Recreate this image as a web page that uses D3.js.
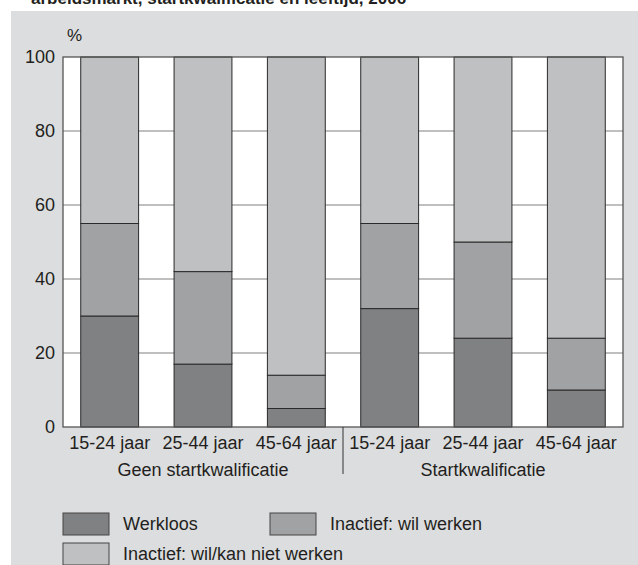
<!DOCTYPE html>
<html><head><meta charset="utf-8">
<script src="https://cdn.jsdelivr.net/npm/d3@7"></script>
<style>body{margin:0;background:#fff}svg{display:block}text{font-family:"Liberation Sans",Arial,Helvetica,sans-serif;fill:#231f20}</style>
</head><body>
<script>
const groups = ["Geen startkwalificatie", "Startkwalificatie"];
const ageLabels = ["15-24 jaar", "25-44 jaar", "45-64 jaar"];
const categories = ["G 15-24", "G 25-44", "G 45-64", "S 15-24", "S 25-44", "S 45-64"];
const werkloos = [30, 17, 5, 32, 24, 10];
const wilWerken = [25, 25, 9, 23, 26, 14];
const nietWerken = [45, 58, 86, 45, 50, 76];
const seriesNames = ["Werkloos", "Inactief: wil werken", "Inactief: wil/kan niet werken"];
const colors = ["#808183", "#a1a2a4", "#bfc0c2"];
const yTicks = [0, 20, 40, 60, 80, 100];
const title = "arbeidsmarkt, startkwalificatie en leeftijd, 2006";

const W = 638, H = 565;
const svg = d3.select("body").append("svg").attr("width", W).attr("height", H);
svg.append("rect").attr("x", 11).attr("y", 11).attr("width", W - 11).attr("height", H - 11).attr("fill", "#dcdddf");
svg.append("text").attr("x", 31).attr("y", 4).attr("font-size", 17).attr("font-weight", "bold").text(title);

const m = {l: 63, r: 623, t: 57, b: 427};
const x = d3.scaleBand().domain(categories).range([m.l, m.r]).paddingInner(0.38).paddingOuter(0.19);
const y = d3.scaleLinear().domain([0, 100]).range([m.b, m.t]);

svg.append("rect").attr("x", m.l).attr("y", m.t).attr("width", m.r - m.l).attr("height", m.b - m.t).attr("fill", "#fff");
svg.append("g").selectAll("line").data(yTicks.filter(d => d > 0 && d < 100)).join("line")
  .attr("x1", m.l).attr("x2", m.r).attr("y1", d => y(d)).attr("y2", d => y(d))
  .attr("stroke", "#808080").attr("stroke-width", 1.2);

const data = categories.map((c, i) => ({c, v: [werkloos[i], wilWerken[i], nietWerken[i]]}));
const stacked = d3.stack().keys([0, 1, 2]).value((d, k) => d.v[k])(data);
svg.append("g").selectAll("g").data(stacked).join("g").attr("fill", (d, i) => colors[i])
  .selectAll("rect").data(d => d).join("rect")
  .attr("x", d => x(d.data.c)).attr("width", x.bandwidth())
  .attr("y", d => y(d[1])).attr("height", d => y(d[0]) - y(d[1]))
  .attr("stroke", "#2a2a2a").attr("stroke-width", 1);

// frame
svg.append("rect").attr("x", m.l).attr("y", m.t).attr("width", m.r - m.l).attr("height", m.b - m.t)
  .attr("fill", "none").attr("stroke", "#555").attr("stroke-width", 1.3);

// y axis labels
const yAxis = d3.axisLeft(y).tickValues(yTicks).tickSize(0).tickPadding(8);
const ya = svg.append("g").attr("transform", `translate(${m.l},0)`).call(yAxis);
ya.select(".domain").remove();
ya.selectAll("text").attr("font-size", 18).attr("font-family", null).attr("fill", "#231f20");
svg.append("text").attr("x", 67).attr("y", 41).attr("font-size", 17).text("%");

// x axis labels
const xAxis = d3.axisBottom(x).tickSize(0).tickPadding(9).tickFormat((d, i) => ageLabels[i % 3]);
const xa = svg.append("g").attr("transform", `translate(0,${m.b})`).call(xAxis);
xa.select(".domain").remove();
xa.selectAll("text").attr("font-size", 18).attr("font-family", null).attr("fill", "#231f20");

// group labels & divider
const mid = (x(categories[2]) + x.bandwidth() + x(categories[3])) / 2;
svg.append("line").attr("x1", mid).attr("x2", mid).attr("y1", m.b).attr("y2", 474).attr("stroke", "#333").attr("stroke-width", 1);
svg.append("text").attr("x", (m.l + mid) / 2).attr("y", 476).attr("text-anchor", "middle").attr("font-size", 18).text(groups[0]);
svg.append("text").attr("x", (mid + m.r) / 2).attr("y", 476).attr("text-anchor", "middle").attr("font-size", 18).text(groups[1]);

// legend
const leg = [{i: 0, x: 63, y: 513}, {i: 1, x: 270, y: 513}, {i: 2, x: 63, y: 543}];
const lg = svg.append("g").selectAll("g").data(leg).join("g");
lg.append("rect").attr("x", d => d.x).attr("y", d => d.y).attr("width", 46).attr("height", 22)
  .attr("fill", d => colors[d.i]).attr("stroke", "#444").attr("stroke-width", 1);
lg.append("text").attr("x", d => d.x + 60).attr("y", d => d.y + 17).attr("font-size", 18).text(d => seriesNames[d.i]);
</script>
</body></html>
